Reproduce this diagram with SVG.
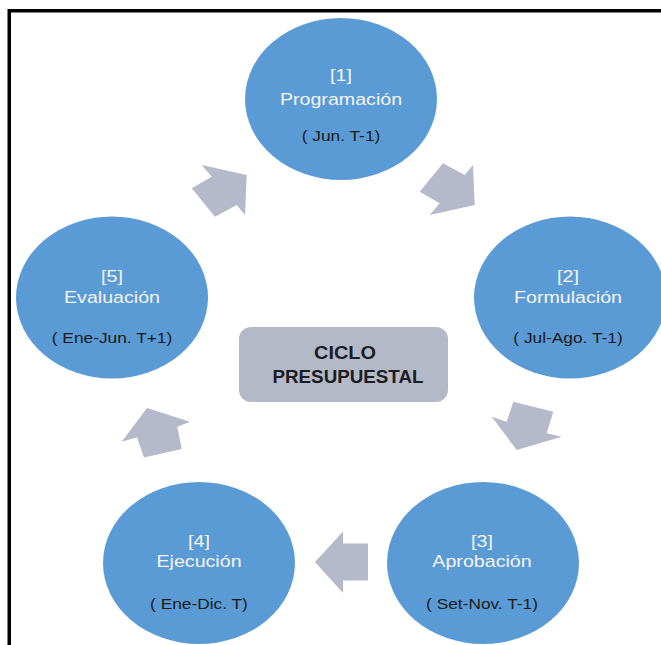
<svg xmlns="http://www.w3.org/2000/svg" width="661" height="645" viewBox="0 0 661 645">
<style>
.node{fill:#5b9bd5}
.num,.ttl{font-family:"Liberation Sans",Arial,sans-serif;font-size:17px;fill:#f4f4f4;text-anchor:middle}
.date{font-family:"Liberation Sans",Arial,sans-serif;font-size:15px;fill:#1a1a1a;text-anchor:middle}
.arrow{fill:#b4bac9}
.center{fill:#b4b9c8}
.ctext{font-family:"Liberation Sans",Arial,sans-serif;font-size:17.5px;font-weight:bold;fill:#1c1c24;text-anchor:middle}
</style>
<rect width="661" height="645" fill="#ffffff"/>
<path d="M9.25,645 V10.75 H661" fill="none" stroke="#000" stroke-width="3.5"/>

<g id="connectors">
  <polygon class="arrow" points="246.7,175 245,215 236.7,205 215,216.7 191.7,188.3 211.7,176.7 201.7,165"/>
  <polygon class="arrow" points="474.7,205 429.7,215 439.7,203.3 419.7,191.7 443,163.3 464.7,175 473,165"/>
  <polygon class="arrow" points="516.7,450 561.7,436.7 546.7,433.3 553.3,411.7 513.3,401.7 506.7,421.7 491.7,416.7"/>
  <polygon class="arrow" points="315,562 343,531.5 343,543.5 368,543.5 368,580.5 343,580.5 343,593"/>
  <polygon class="arrow" points="147,408 190,421.7 177.3,426.7 181.7,449 144,457.5 137,437.2 121.7,441.7"/>
</g>

<g id="node1">
  <ellipse class="node" cx="341" cy="99" rx="96" ry="81"/>
  <g transform="translate(341,0) scale(1.155,1)">
    <text class="num" x="0" y="81">[1]</text>
    <text class="ttl" x="0" y="105">Programación</text>
    <text class="date" x="0" y="141">( Jun. T-1)</text>
  </g>
</g>

<g id="node2">
  <ellipse class="node" cx="570" cy="297.5" rx="96" ry="81"/>
  <g transform="translate(568,0) scale(1.155,1)">
    <text class="num" x="0" y="282">[2]</text>
    <text class="ttl" x="0" y="303">Formulación</text>
    <text class="date" x="0" y="343">( Jul-Ago. T-1)</text>
  </g>
</g>

<g id="node3">
  <ellipse class="node" cx="483" cy="563" rx="96" ry="81"/>
  <g transform="translate(482,0) scale(1.155,1)">
    <text class="num" x="0" y="547">[3]</text>
    <text class="ttl" x="0" y="567">Aprobación</text>
    <text class="date" x="0" y="609">( Set-Nov. T-1)</text>
  </g>
</g>

<g id="node4">
  <ellipse class="node" cx="199" cy="563" rx="96" ry="81"/>
  <g transform="translate(199,0) scale(1.155,1)">
    <text class="num" x="0" y="547">[4]</text>
    <text class="ttl" x="0" y="567">Ejecución</text>
    <text class="date" x="0" y="609">( Ene-Dic. T)</text>
  </g>
</g>

<g id="node5">
  <ellipse class="node" cx="112" cy="297.5" rx="96" ry="81"/>
  <g transform="translate(112,0) scale(1.155,1)">
    <text class="num" x="0" y="282">[5]</text>
    <text class="ttl" x="0" y="303">Evaluación</text>
    <text class="date" x="0" y="343">( Ene-Jun. T+1)</text>
  </g>
</g>

<g id="center">
  <rect class="center" x="239" y="327" width="209" height="75" rx="12"/>
  <text class="ctext" x="345" y="359" textLength="62" lengthAdjust="spacingAndGlyphs">CICLO</text>
  <text class="ctext" x="348" y="383" textLength="151" lengthAdjust="spacingAndGlyphs">PRESUPUESTAL</text>
</g>
</svg>
